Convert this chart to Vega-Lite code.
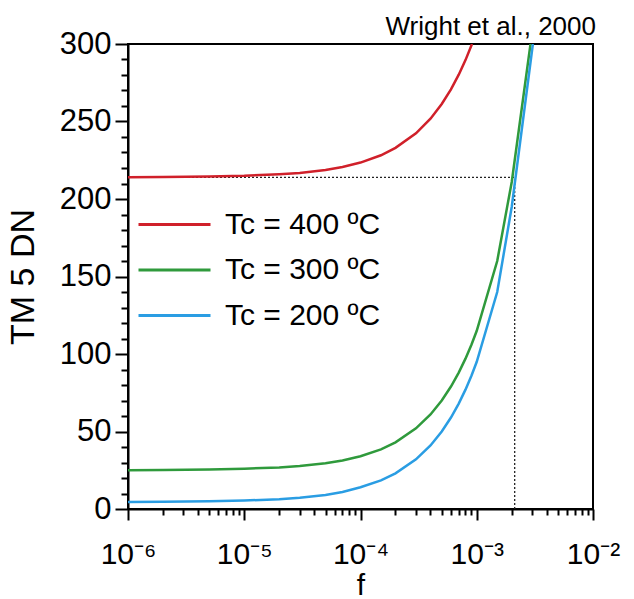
{
  "$schema": "https://vega.github.io/schema/vega-lite/v6.json",
  "width": 465,
  "height": 465,
  "autosize": "none",
  "padding": {"left": 128, "top": 44, "right": 41, "bottom": 90},
  "background": "white",
  "title": {
    "text": "Wright et al., 2000",
    "anchor": "end",
    "frame": "group",
    "font": "Liberation Sans",
    "fontSize": 26,
    "fontWeight": "normal",
    "color": "black",
    "baseline": "alphabetic",
    "offset": 11,
    "dy": 44,
    "dx": 3
  },
  "config": {
    "view": {"stroke": "black", "strokeWidth": 2},
    "axis": {
      "grid": false,
      "domainColor": "black",
      "domainWidth": 2,
      "tickColor": "black",
      "tickWidth": 2,
      "labelColor": "black",
      "titleColor": "black",
      "labelFont": "Liberation Sans",
      "titleFont": "Liberation Sans",
      "titleFontWeight": "normal"
    }
  },
  "encoding": {
    "x": {
      "field": "f",
      "type": "quantitative",
      "scale": {"type": "log", "domain": [0.000001, 0.01], "nice": false},
      "axis": {
        "title": "f",
        "titleFontSize": 30,
        "titlePadding": 1,
        "labelFontSize": 30,
        "labelPadding": 19,
        "labelDx": 10,
        "labelOverlap": false,
        "labelFlush": false,
        "values": [0.000001, 0.000002, 0.000003, 0.000004, 0.000005, 0.000006, 0.000007, 0.000008, 0.000009,
                   0.00001, 0.00002, 0.00003, 0.00004, 0.00005, 0.00006, 0.00007, 0.00008, 0.00009,
                   0.0001, 0.0002, 0.0003, 0.0004, 0.0005, 0.0006, 0.0007, 0.0008, 0.0009,
                   0.001, 0.002, 0.003, 0.004, 0.005, 0.006, 0.007, 0.008, 0.009, 0.01],
        "tickSize": {"condition": {"test": "abs(log(datum.value)/LN10 - round(log(datum.value)/LN10)) < 0.001", "value": 11}, "value": 6},
        "labelExpr": "abs(log(datum.value)/LN10 - round(log(datum.value)/LN10)) > 0.001 ? '' : round(log(datum.value)/LN10) == -6 ? '10⁻⁶' : round(log(datum.value)/LN10) == -5 ? '10⁻⁵' : round(log(datum.value)/LN10) == -4 ? '10⁻⁴' : round(log(datum.value)/LN10) == -3 ? '10⁻³' : '10⁻²'"
      }
    },
    "y": {
      "field": "dn",
      "type": "quantitative",
      "scale": {"domain": [0, 300], "nice": false},
      "axis": {
        "title": "TM 5 DN",
        "titleFontSize": 34,
        "titlePadding": 19,
        "labelFontSize": 31,
        "labelPadding": 4,
        "labelOverlap": false,
        "labelFlush": false,
        "values": [0, 10, 20, 30, 40, 50, 60, 70, 80, 90, 100, 110, 120, 130, 140, 150, 160, 170, 180, 190, 200, 210, 220, 230, 240, 250, 260, 270, 280, 290, 300],
        "tickSize": {"condition": {"test": "datum.value % 50 == 0", "value": 13}, "value": 7},
        "labelExpr": "datum.value % 50 == 0 ? datum.label : ''"
      }
    }
  },
  "layer": [
    {
      "data": {
        "values": [
          {"f": 0.000001, "f2": 0.00212, "dn": 214, "dn2": 214},
          {"f": 0.00212, "f2": 0.00212, "dn": 0, "dn2": 214}
        ]
      },
      "mark": {"type": "rule", "color": "#222222", "strokeWidth": 1.3, "strokeDash": [2, 2]},
      "encoding": {
        "x2": {"field": "f2"},
        "y2": {"field": "dn2"}
      }
    },
    {
      "data": {
        "values": [
          {"Tc": "Tc = 400 ºC", "f": 0.000001, "dn": 214.1},
          {"Tc": "Tc = 400 ºC", "f": 0.000002, "dn": 214.2},
          {"Tc": "Tc = 400 ºC", "f": 0.000005, "dn": 214.5},
          {"Tc": "Tc = 400 ºC", "f": 0.00001, "dn": 215},
          {"Tc": "Tc = 400 ºC", "f": 0.00002, "dn": 216},
          {"Tc": "Tc = 400 ºC", "f": 0.00003, "dn": 216.8},
          {"Tc": "Tc = 400 ºC", "f": 0.00005, "dn": 218.7},
          {"Tc": "Tc = 400 ºC", "f": 0.00007, "dn": 220.6},
          {"Tc": "Tc = 400 ºC", "f": 0.0001, "dn": 223.5},
          {"Tc": "Tc = 400 ºC", "f": 0.00015, "dn": 228.2},
          {"Tc": "Tc = 400 ºC", "f": 0.0002, "dn": 233},
          {"Tc": "Tc = 400 ºC", "f": 0.0003, "dn": 242.4},
          {"Tc": "Tc = 400 ºC", "f": 0.0004, "dn": 251.8},
          {"Tc": "Tc = 400 ºC", "f": 0.0005, "dn": 261.3},
          {"Tc": "Tc = 400 ºC", "f": 0.0006, "dn": 270.7},
          {"Tc": "Tc = 400 ºC", "f": 0.0007, "dn": 280.2},
          {"Tc": "Tc = 400 ºC", "f": 0.0008, "dn": 289.6},
          {"Tc": "Tc = 400 ºC", "f": 0.00091, "dn": 300},
          {"Tc": "Tc = 300 ºC", "f": 0.000001, "dn": 25},
          {"Tc": "Tc = 300 ºC", "f": 0.000002, "dn": 25.1},
          {"Tc": "Tc = 300 ºC", "f": 0.000005, "dn": 25.5},
          {"Tc": "Tc = 300 ºC", "f": 0.00001, "dn": 26},
          {"Tc": "Tc = 300 ºC", "f": 0.00002, "dn": 26.8},
          {"Tc": "Tc = 300 ºC", "f": 0.00003, "dn": 27.7},
          {"Tc": "Tc = 300 ºC", "f": 0.00005, "dn": 29.5},
          {"Tc": "Tc = 300 ºC", "f": 0.00007, "dn": 31.3},
          {"Tc": "Tc = 300 ºC", "f": 0.0001, "dn": 34},
          {"Tc": "Tc = 300 ºC", "f": 0.00015, "dn": 38.5},
          {"Tc": "Tc = 300 ºC", "f": 0.0002, "dn": 43},
          {"Tc": "Tc = 300 ºC", "f": 0.0003, "dn": 52},
          {"Tc": "Tc = 300 ºC", "f": 0.0004, "dn": 61},
          {"Tc": "Tc = 300 ºC", "f": 0.0005, "dn": 70},
          {"Tc": "Tc = 300 ºC", "f": 0.0006, "dn": 79},
          {"Tc": "Tc = 300 ºC", "f": 0.0007, "dn": 88},
          {"Tc": "Tc = 300 ºC", "f": 0.0008, "dn": 97},
          {"Tc": "Tc = 300 ºC", "f": 0.0009, "dn": 106},
          {"Tc": "Tc = 300 ºC", "f": 0.001, "dn": 115},
          {"Tc": "Tc = 300 ºC", "f": 0.0015, "dn": 160},
          {"Tc": "Tc = 300 ºC", "f": 0.002, "dn": 211},
          {"Tc": "Tc = 300 ºC", "f": 0.0029, "dn": 300},
          {"Tc": "Tc = 200 ºC", "f": 0.000001, "dn": 4.5},
          {"Tc": "Tc = 200 ºC", "f": 0.000002, "dn": 4.6},
          {"Tc": "Tc = 200 ºC", "f": 0.000005, "dn": 5},
          {"Tc": "Tc = 200 ºC", "f": 0.00001, "dn": 5.5},
          {"Tc": "Tc = 200 ºC", "f": 0.00002, "dn": 6.3},
          {"Tc": "Tc = 200 ºC", "f": 0.00003, "dn": 7.2},
          {"Tc": "Tc = 200 ºC", "f": 0.00005, "dn": 9},
          {"Tc": "Tc = 200 ºC", "f": 0.00007, "dn": 11},
          {"Tc": "Tc = 200 ºC", "f": 0.0001, "dn": 14},
          {"Tc": "Tc = 200 ºC", "f": 0.00015, "dn": 18.5},
          {"Tc": "Tc = 200 ºC", "f": 0.0002, "dn": 23},
          {"Tc": "Tc = 200 ºC", "f": 0.0003, "dn": 32},
          {"Tc": "Tc = 200 ºC", "f": 0.0004, "dn": 41},
          {"Tc": "Tc = 200 ºC", "f": 0.0005, "dn": 50},
          {"Tc": "Tc = 200 ºC", "f": 0.0006, "dn": 59},
          {"Tc": "Tc = 200 ºC", "f": 0.0007, "dn": 68},
          {"Tc": "Tc = 200 ºC", "f": 0.0008, "dn": 77},
          {"Tc": "Tc = 200 ºC", "f": 0.0009, "dn": 86},
          {"Tc": "Tc = 200 ºC", "f": 0.001, "dn": 95},
          {"Tc": "Tc = 200 ºC", "f": 0.0015, "dn": 140},
          {"Tc": "Tc = 200 ºC", "f": 0.002, "dn": 195},
          {"Tc": "Tc = 200 ºC", "f": 0.00304, "dn": 300}
        ]
      },
      "mark": {"type": "line", "strokeWidth": 2.5, "clip": true},
      "encoding": {
        "color": {
          "field": "Tc",
          "type": "nominal",
          "scale": {"domain": ["Tc = 400 ºC", "Tc = 300 ºC", "Tc = 200 ºC"], "range": ["#d0202a", "#2f9a3c", "#2a9de3"]},
          "legend": {
            "title": null,
            "orient": "none",
            "legendX": 9,
            "legendY": 158,
            "symbolType": "stroke",
            "symbolSize": 5184,
            "symbolStrokeWidth": 3,
            "clipHeight": 45,
            "labelFont": "Liberation Sans",
            "labelFontSize": 30,
            "labelColor": "black",
            "labelOffset": 13,
            "labelLimit": 400,
            "rowPadding": 0.5
          }
        }
      }
    }
  ]
}
